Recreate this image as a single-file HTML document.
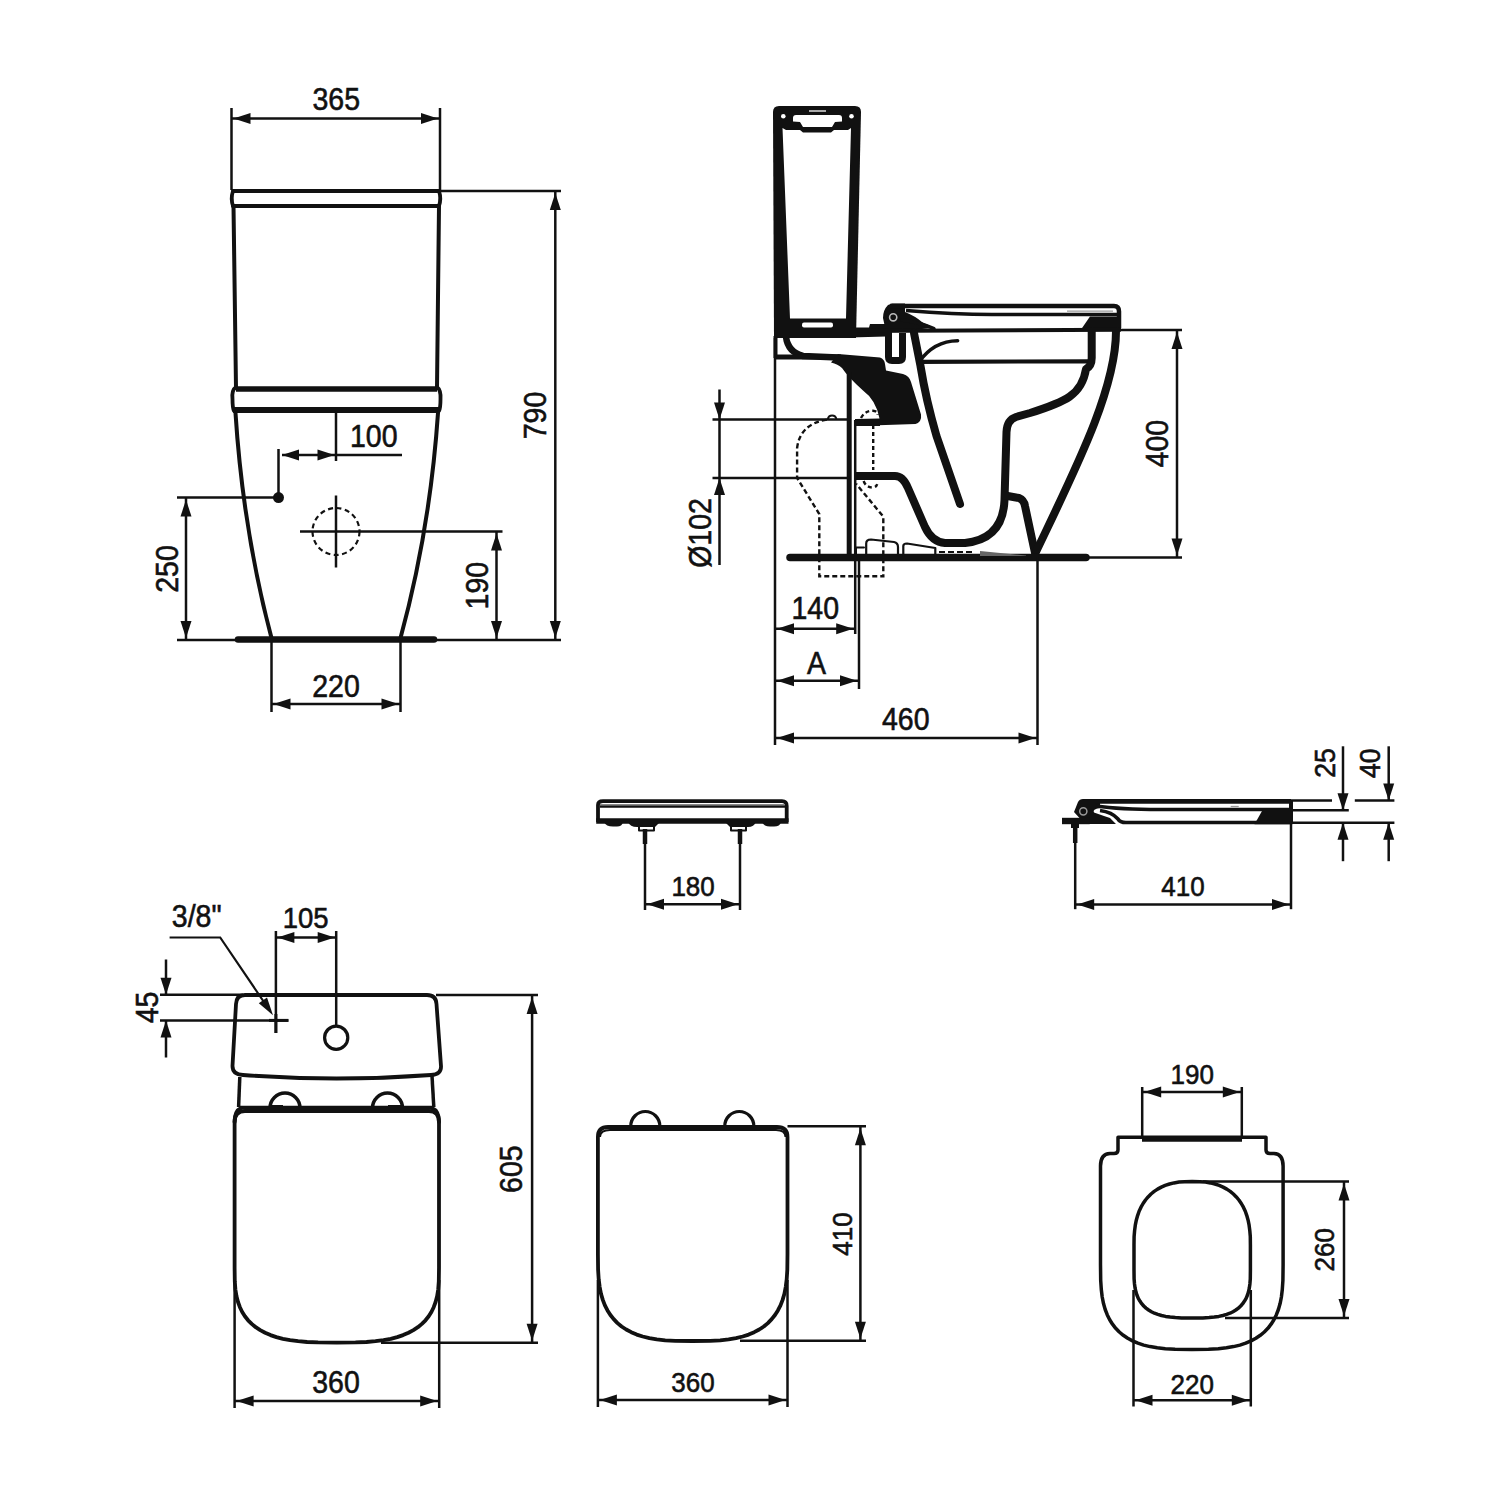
<!DOCTYPE html>
<html><head><meta charset="utf-8"><style>
html,body{margin:0;padding:0;background:#fff;width:1500px;height:1500px;overflow:hidden}
svg{display:block}
text{font-family:"Liberation Sans",sans-serif;fill:#111;stroke:#111;stroke-width:0.55px}
</style></head><body>
<svg width="1500" height="1500" viewBox="0 0 1500 1500">
<rect width="1500" height="1500" fill="#fff"/>
<line x1="231.5" y1="108" x2="231.5" y2="190" stroke="#111" stroke-width="2.5" stroke-linecap="butt" />
<line x1="440" y1="108" x2="440" y2="190" stroke="#111" stroke-width="2.5" stroke-linecap="butt" />
<line x1="231.5" y1="118.5" x2="440" y2="118.5" stroke="#111" stroke-width="2.5" stroke-linecap="butt" />
<polygon points="233.5,118.5 250.5,113.0 250.5,124.0" fill="#111"/>
<polygon points="438.0,118.5 421.0,124.0 421.0,113.0" fill="#111"/>
<text transform="translate(336.2,109.5) scale(1,1.08)" font-size="28.5" text-anchor="middle">365</text>
<path d="M233,191 L439,191" fill="none" stroke="#111" stroke-width="3.8" stroke-linecap="round" stroke-linejoin="round" />
<path d="M233,206 L439,206" fill="none" stroke="#111" stroke-width="3.8" stroke-linecap="round" stroke-linejoin="round" />
<path d="M233,191 Q230.5,198.5 233,206" fill="none" stroke="#111" stroke-width="3.8" stroke-linecap="round" stroke-linejoin="round" />
<path d="M439,191 Q441.5,198.5 439,206" fill="none" stroke="#111" stroke-width="3.8" stroke-linecap="round" stroke-linejoin="round" />
<path d="M233.5,206 L236,388" fill="none" stroke="#111" stroke-width="4" stroke-linecap="round" stroke-linejoin="round" />
<path d="M439,206 L437,388" fill="none" stroke="#111" stroke-width="4" stroke-linecap="round" stroke-linejoin="round" />
<path d="M236,389 L437,389" fill="none" stroke="#111" stroke-width="5.5" stroke-linecap="butt" stroke-linejoin="round" />
<path d="M233,410 L440,410" fill="none" stroke="#111" stroke-width="6" stroke-linecap="butt" stroke-linejoin="round" />
<path d="M236,387 Q231.5,390 232.5,399 Q232.5,408 234,411" fill="none" stroke="#111" stroke-width="3.8" stroke-linecap="round" stroke-linejoin="round" />
<path d="M437,387 Q441,390 440.5,399 Q440.5,408 439,411" fill="none" stroke="#111" stroke-width="3.8" stroke-linecap="round" stroke-linejoin="round" />
<path d="M235.5,413 Q243,530 271.5,638" fill="none" stroke="#111" stroke-width="4" stroke-linecap="round" stroke-linejoin="round" />
<path d="M438,413 Q430,530 400.5,638" fill="none" stroke="#111" stroke-width="4" stroke-linecap="round" stroke-linejoin="round" />
<path d="M238,639.5 L434,639.5" fill="none" stroke="#111" stroke-width="6.5" stroke-linecap="round" stroke-linejoin="round" />
<line x1="177" y1="640" x2="561" y2="640" stroke="#111" stroke-width="2.5" stroke-linecap="butt" />
<line x1="336" y1="410" x2="336" y2="461" stroke="#111" stroke-width="2.5" stroke-linecap="butt" />
<line x1="282" y1="455" x2="402" y2="455" stroke="#111" stroke-width="2.5" stroke-linecap="butt" />
<polygon points="282.0,455.0 299.0,449.5 299.0,460.5" fill="#111"/>
<polygon points="334.5,455.0 317.5,460.5 317.5,449.5" fill="#111"/>
<text transform="translate(373.7,447) scale(1,1.08)" font-size="28.5" text-anchor="middle">100</text>
<line x1="278.5" y1="449" x2="278.5" y2="497.6" stroke="#111" stroke-width="2.5" stroke-linecap="butt" />
<circle cx="278.5" cy="497.6" r="5.5" fill="#111"/>
<line x1="177" y1="497.6" x2="278.5" y2="497.6" stroke="#111" stroke-width="2.5" stroke-linecap="butt" />
<line x1="186" y1="497.6" x2="186" y2="640" stroke="#111" stroke-width="2.5" stroke-linecap="butt" />
<polygon points="186.0,499.6 191.5,516.6 180.5,516.6" fill="#111"/>
<polygon points="186.0,638.0 180.5,621.0 191.5,621.0" fill="#111"/>
<text transform="translate(177.5,569) rotate(-90) scale(1,1.08)" font-size="28.5" text-anchor="middle">250</text>
<circle cx="336" cy="531.5" r="23.5" fill="none" stroke="#111" stroke-width="2.2" stroke-dasharray="5 3.5"/>
<line x1="300" y1="531.5" x2="502.5" y2="531.5" stroke="#111" stroke-width="2.5" stroke-linecap="butt" />
<line x1="336" y1="495.5" x2="336" y2="567.5" stroke="#111" stroke-width="2.5" stroke-linecap="butt" />
<line x1="496.5" y1="531.5" x2="496.5" y2="640" stroke="#111" stroke-width="2.5" stroke-linecap="butt" />
<polygon points="496.5,533.5 502.0,550.5 491.0,550.5" fill="#111"/>
<polygon points="496.5,638.0 491.0,621.0 502.0,621.0" fill="#111"/>
<text transform="translate(488.0,585.7) rotate(-90) scale(1,1.08)" font-size="28.5" text-anchor="middle">190</text>
<line x1="440" y1="191" x2="561" y2="191" stroke="#111" stroke-width="2.5" stroke-linecap="butt" />
<line x1="555.3" y1="191" x2="555.3" y2="640" stroke="#111" stroke-width="2.5" stroke-linecap="butt" />
<polygon points="555.3,193.0 560.8,210.0 549.8,210.0" fill="#111"/>
<polygon points="555.3,638.0 549.8,621.0 560.8,621.0" fill="#111"/>
<text transform="translate(546.0,415.5) rotate(-90) scale(1,1.08)" font-size="28.5" text-anchor="middle">790</text>
<line x1="271.5" y1="640" x2="271.5" y2="712" stroke="#111" stroke-width="2.5" stroke-linecap="butt" />
<line x1="400.5" y1="640" x2="400.5" y2="712" stroke="#111" stroke-width="2.5" stroke-linecap="butt" />
<line x1="271.5" y1="704" x2="400.5" y2="704" stroke="#111" stroke-width="2.5" stroke-linecap="butt" />
<polygon points="273.5,704.0 290.5,698.5 290.5,709.5" fill="#111"/>
<polygon points="398.5,704.0 381.5,709.5 381.5,698.5" fill="#111"/>
<text transform="translate(336,696.5) scale(1,1.08)" font-size="28.5" text-anchor="middle">220</text>
<path d="M779,106 L855,106 Q861,106 861,112 L856,338 L774,338 L773,112 Q773,106 779,106 Z" fill="#111" stroke="none"/>
<path d="M782.5,128 L786,130 L800,130 L803,132.5 L831,132.5 L834,130 L848,130 L851,128 L846,318.5 L790,318.5 Z" fill="#fff" stroke="none"/>
<path d="M796,115 L839,115 Q842,115 842,118 L842,121.5 L835,122 L832,127 L803,127 L800,122 L793,121.5 L793,118 Q793,115 796,115 Z" fill="#fff" stroke="none"/>
<circle cx="783.3" cy="116.3" r="2.3" fill="#fff"/><circle cx="851.5" cy="116.3" r="2.3" fill="#fff"/>
<line x1="809" y1="111" x2="826" y2="111" stroke="#ddd" stroke-width="1.5" stroke-linecap="butt" />
<rect x="802" y="322.5" width="31" height="5" rx="2" fill="#fff"/>
<path d="M850,327.5 L869,327.5 L870,324 L886,324 L886,336.5 L850,337.5 Z" fill="#111" stroke="none"/>
<path d="M775.5,336 L775.5,358" fill="none" stroke="#111" stroke-width="4" stroke-linecap="butt" stroke-linejoin="round" />
<path d="M786,337 Q788,352 803,356 L838,357.5" fill="none" stroke="#111" stroke-width="6.5" stroke-linecap="butt" stroke-linejoin="round" />
<line x1="774.5" y1="357" x2="841" y2="357" stroke="#111" stroke-width="5" stroke-linecap="butt" />
<path d="M838,354 L880,357.5 Q884.5,359 885,364 L886,370.5 L903,374 Q909.5,376 911,382 L921,414.5 Q922,422 915.5,424 L856,426 L856,419 L879.5,418.5 Q876,400 863,390.5 Q848,377 842,368 Q838,364 831,362.5 Z" fill="#111" stroke="none"/>
<line x1="849.2" y1="372" x2="849.2" y2="558" stroke="#111" stroke-width="5" stroke-linecap="butt" />
<line x1="855.2" y1="420" x2="855.2" y2="634" stroke="#111" stroke-width="2.5" stroke-linecap="butt" />
<line x1="859" y1="557" x2="859" y2="689" stroke="#111" stroke-width="2.5" stroke-linecap="butt" />
<path d="M883,318 Q883,310 888,305 L892,303.5 L905,303.5 L905,312 Q915,316 922,322 L934,328 L886,332 Z" fill="#111" stroke="none"/>
<circle cx="893.2" cy="317.3" r="3.6" fill="none" stroke="#bbb" stroke-width="1.6"/>
<path d="M890,306 L1114,306 Q1119,306 1119,311.5 L1119,328" fill="none" stroke="#111" stroke-width="4.5" stroke-linecap="butt" stroke-linejoin="round" />
<path d="M906,310.5 Q960,315 1000,314.5 L1117,314.5" fill="none" stroke="#111" stroke-width="3.5" stroke-linecap="butt" stroke-linejoin="round" />
<line x1="1067" y1="311.2" x2="1113" y2="311.2" stroke="#999" stroke-width="1.3" stroke-linecap="butt" />
<path d="M1090,316.5 L1121,316.5 L1121,331 L1080,331 Z" fill="#111" stroke="none"/>
<path d="M902,320 Q918,322 934,328.5" fill="none" stroke="#111" stroke-width="3.5" stroke-linecap="round" stroke-linejoin="round" />
<path d="M850,331 L1121,329.7" fill="none" stroke="#111" stroke-width="4" stroke-linecap="butt" stroke-linejoin="round" />
<line x1="1121" y1="329.9" x2="1182" y2="329.9" stroke="#111" stroke-width="2.5" stroke-linecap="butt" />
<path d="M888.5,332 L888.5,357 Q888.5,360.5 892,360.5 L899,360.5 Q902.5,360.5 902.5,357 L902.5,333" fill="none" stroke="#111" stroke-width="7" stroke-linecap="butt" stroke-linejoin="round" />
<path d="M1091.7,331 L1091.7,358 Q1091.7,366 1086,369 C1082,395 1065,402 1030,413 L1016,417 Q1007,420 1006.5,432 L1004.5,500 Q1003,539 965,543 L945,543 Q932,542 925,527 L908,488 Q903,476 895,476 L855,476" fill="none" stroke="#111" stroke-width="8" stroke-linecap="butt" stroke-linejoin="round" />
<path d="M855,422.5 L880,422.5" fill="none" stroke="#111" stroke-width="7" stroke-linecap="butt" stroke-linejoin="round" />
<path d="M918,338 L922.5,366 Q928,400 938.5,436 L961,500" fill="none" stroke="#fff" stroke-width="12" stroke-linecap="butt" stroke-linejoin="round" />
<path d="M914,333 L920.5,366 Q926,400 936.5,436 L960,504" fill="none" stroke="#111" stroke-width="8" stroke-linecap="round" stroke-linejoin="round" />
<path d="M919,362 Q934,341 957.6,340.8" fill="none" stroke="#111" stroke-width="3.6" stroke-linecap="round" stroke-linejoin="round" />
<path d="M918,361.8 L1088,361.3" fill="none" stroke="#111" stroke-width="4.2" stroke-linecap="butt" stroke-linejoin="round" />
<path d="M1005,495.5 L1019,498 Q1024,500 1025,506 L1035,553" fill="none" stroke="#111" stroke-width="8" stroke-linecap="round" stroke-linejoin="round" />
<path d="M1116,331 C1116,390 1075,470 1035,554" fill="none" stroke="#111" stroke-width="8" stroke-linecap="butt" stroke-linejoin="round" />
<path d="M790,557.5 L1086,557.5" fill="none" stroke="#111" stroke-width="7.5" stroke-linecap="round" stroke-linejoin="round" />
<line x1="1086" y1="557.6" x2="1182" y2="557.6" stroke="#111" stroke-width="2.5" stroke-linecap="butt" />
<path d="M856,557 L856,547.5 L864,547.5" fill="none" stroke="#111" stroke-width="2" stroke-linecap="round" stroke-linejoin="round" />
<path d="M866.2,557 L866.2,543.5 Q866.2,539.5 871,539.5 L894,542 Q898,543 898,547 L898,557" fill="none" stroke="#111" stroke-width="2.2" stroke-linecap="butt" stroke-linejoin="round" />
<path d="M903.3,557 L903.3,546 Q903.3,543.5 907,543.5 L935.3,548 L935.3,557" fill="none" stroke="#111" stroke-width="2.2" stroke-linecap="butt" stroke-linejoin="round" />
<line x1="939" y1="552" x2="975" y2="552" stroke="#111" stroke-width="2" stroke-dasharray="6 3"/>
<path d="M980,551 L1026,555.5 L1026,556 L980,556 Z" fill="#666" stroke="none"/>
<path d="M826.9,419.6 Q800,424 797.1,448 L797.1,478 L819.3,514 L819.3,576.2 L883.3,576.2 L883.3,516.6 L856,483.7" fill="none" stroke="#111" stroke-width="2.4" stroke-dasharray="5 3"/>
<path d="M827.8,419 A4.4,4.4 0 0 1 836.4,419" fill="none" stroke="#111" stroke-width="2"/>
<path d="M861,418 Q865,410.5 873,410.8 Q877.5,411 877.6,415 M873.2,425 L873.2,470 M863.6,481 Q866,487.5 873,487.5 Q877.6,487 877.6,481" fill="none" stroke="#111" stroke-width="2.4" stroke-dasharray="4 3"/>
<line x1="775" y1="338" x2="775" y2="745" stroke="#111" stroke-width="2.5" stroke-linecap="butt" />
<line x1="1037.5" y1="557" x2="1037.5" y2="745" stroke="#111" stroke-width="2.5" stroke-linecap="butt" />
<line x1="775" y1="738" x2="1037.5" y2="738" stroke="#111" stroke-width="2.5" stroke-linecap="butt" />
<polygon points="777.0,738.0 794.0,732.5 794.0,743.5" fill="#111"/>
<polygon points="1035.5,738.0 1018.5,743.5 1018.5,732.5" fill="#111"/>
<text transform="translate(905.7,729.8) scale(1,1.08)" font-size="28.5" text-anchor="middle">460</text>
<line x1="775" y1="628.7" x2="855.2" y2="628.7" stroke="#111" stroke-width="2.5" stroke-linecap="butt" />
<polygon points="777.0,628.7 794.0,623.2 794.0,634.2" fill="#111"/>
<polygon points="853.2,628.7 836.2,634.2 836.2,623.2" fill="#111"/>
<text transform="translate(815.2,619.2) scale(1,1.08)" font-size="28.5" text-anchor="middle">140</text>
<line x1="775" y1="680.7" x2="859" y2="680.7" stroke="#111" stroke-width="2.5" stroke-linecap="butt" />
<polygon points="777.0,680.7 794.0,675.2 794.0,686.2" fill="#111"/>
<polygon points="857.0,680.7 840.0,686.2 840.0,675.2" fill="#111"/>
<text transform="translate(816.5,673.5) scale(1,1.08)" font-size="28.5" text-anchor="middle">A</text>
<line x1="712.5" y1="419.6" x2="849" y2="419.6" stroke="#111" stroke-width="2.5" stroke-linecap="butt" />
<line x1="712.5" y1="478" x2="849" y2="478" stroke="#111" stroke-width="2.5" stroke-linecap="butt" />
<line x1="719.5" y1="389.5" x2="719.5" y2="565" stroke="#111" stroke-width="2.5" stroke-linecap="butt" />
<polygon points="719.5,419.6 714.0,402.6 725.0,402.6" fill="#111"/>
<polygon points="719.5,478.0 725.0,495.0 714.0,495.0" fill="#111"/>
<text transform="translate(711.2,533) rotate(-90) scale(1,1.08)" font-size="28.5" text-anchor="middle">Ø102</text>
<line x1="1177" y1="329.9" x2="1177" y2="557.6" stroke="#111" stroke-width="2.5" stroke-linecap="butt" />
<polygon points="1177.0,331.9 1182.5,348.9 1171.5,348.9" fill="#111"/>
<polygon points="1177.0,555.6 1171.5,538.6 1182.5,538.6" fill="#111"/>
<text transform="translate(1167.5,443.7) rotate(-90) scale(1,1.08)" font-size="28.5" text-anchor="middle">400</text>
<path d="M598,822 L598,805 Q598,801.2 603,801.2 L782,801.2 Q786.7,801.2 786.7,806 L786.7,822" fill="none" stroke="#111" stroke-width="3.8" stroke-linecap="butt" stroke-linejoin="round" />
<line x1="600" y1="806.4" x2="785" y2="806.4" stroke="#111" stroke-width="2.5" stroke-linecap="butt" />
<line x1="600" y1="804.6" x2="785" y2="804.6" stroke="#888" stroke-width="1.3" stroke-linecap="butt" />
<path d="M596.2,821 L788.5,821" fill="none" stroke="#111" stroke-width="5.5" stroke-linecap="butt" stroke-linejoin="round" />
<path d="M604,822 Q606,826.5 613,826.5 L617,826.5 Q622,826.5 623,822 Z" fill="#111" stroke="none"/>
<path d="M628,822 Q630,827 637,827 L655,827 L660,822 Z" fill="#111" stroke="none"/>
<path d="M762,822 Q764,826.5 770,826.5 L774,826.5 Q780,826.5 781,822 Z" fill="#111" stroke="none"/>
<path d="M725,822 L730,827 L748,827 Q754,827 756,822 Z" fill="#111" stroke="none"/>
<path d="M639,826 L639,830.5 L654,830.5 L654,826" fill="none" stroke="#111" stroke-width="2" stroke-linecap="butt" stroke-linejoin="round" />
<path d="M731,826 L731,830.5 L746,830.5 L746,826" fill="none" stroke="#111" stroke-width="2" stroke-linecap="butt" stroke-linejoin="round" />
<line x1="645" y1="829" x2="645" y2="844" stroke="#111" stroke-width="4.5" stroke-linecap="butt" />
<line x1="740" y1="829" x2="740" y2="844" stroke="#111" stroke-width="4.5" stroke-linecap="butt" />
<line x1="645" y1="844" x2="645" y2="910" stroke="#111" stroke-width="2.5" stroke-linecap="butt" />
<line x1="740" y1="844" x2="740" y2="910" stroke="#111" stroke-width="2.5" stroke-linecap="butt" />
<line x1="645" y1="904.2" x2="740" y2="904.2" stroke="#111" stroke-width="2.5" stroke-linecap="butt" />
<polygon points="647.0,904.2 664.0,898.7 664.0,909.7" fill="#111"/>
<polygon points="738.0,904.2 721.0,909.7 721.0,898.7" fill="#111"/>
<text transform="translate(693.1,895.8) scale(1,1.08)" font-size="26" text-anchor="middle">180</text>
<path d="M1074,812 L1078,802 Q1079.5,799 1083,799 L1100,799 L1100,808 Q1092,809 1094,812.5 L1104,816 L1110,818 L1116,824 L1085,824 Z" fill="#111" stroke="none"/>
<circle cx="1083.3" cy="811.3" r="3.6" fill="none" stroke="#999" stroke-width="1.5"/>
<path d="M1095,801.4 L1291,801.4" fill="none" stroke="#111" stroke-width="4.8" stroke-linecap="butt" stroke-linejoin="round" />
<path d="M1096,806 Q1120,809.5 1160,809.5 L1291,809.5" fill="none" stroke="#111" stroke-width="3.6" stroke-linecap="butt" stroke-linejoin="round" />
<line x1="1230.7" y1="806.5" x2="1238.7" y2="806.5" stroke="#999" stroke-width="1.3" stroke-linecap="butt" />
<path d="M1100,810.5 Q1112,812 1118,819 Q1120,822.5 1126,822.5 L1291,822.5" fill="none" stroke="#111" stroke-width="3.6" stroke-linecap="butt" stroke-linejoin="round" />
<path d="M1262,811 L1292.5,811 L1292.5,824.3 L1254.5,824.3 Z" fill="#111" stroke="none"/>
<line x1="1291" y1="800" x2="1291" y2="824" stroke="#111" stroke-width="4" stroke-linecap="butt" />
<path d="M1062,821 L1089.7,821" fill="none" stroke="#111" stroke-width="6.4" stroke-linecap="butt" stroke-linejoin="round" />
<rect x="1071" y="823" width="8" height="5" fill="#111"/>
<line x1="1075.2" y1="827" x2="1075.2" y2="843" stroke="#111" stroke-width="4.5" stroke-linecap="butt" />
<line x1="1075.2" y1="843" x2="1075.2" y2="909.2" stroke="#111" stroke-width="2.5" stroke-linecap="butt" />
<line x1="1291" y1="823" x2="1291" y2="909.2" stroke="#111" stroke-width="2.5" stroke-linecap="butt" />
<line x1="1075.2" y1="904.4" x2="1291" y2="904.4" stroke="#111" stroke-width="2.5" stroke-linecap="butt" />
<polygon points="1077.2,904.4 1094.2,898.9 1094.2,909.9" fill="#111"/>
<polygon points="1289.0,904.4 1272.0,909.9 1272.0,898.9" fill="#111"/>
<text transform="translate(1183,895.5) scale(1,1.08)" font-size="26" text-anchor="middle">410</text>
<line x1="1291" y1="800.5" x2="1332" y2="800.5" stroke="#111" stroke-width="2.5" stroke-linecap="butt" />
<line x1="1354.8" y1="800.5" x2="1394.4" y2="800.5" stroke="#111" stroke-width="2.5" stroke-linecap="butt" />
<line x1="1291" y1="810.3" x2="1348.8" y2="810.3" stroke="#111" stroke-width="2.5" stroke-linecap="butt" />
<line x1="1291" y1="822.8" x2="1394.4" y2="822.8" stroke="#111" stroke-width="2.5" stroke-linecap="butt" />
<line x1="1343" y1="746.3" x2="1343" y2="810.3" stroke="#111" stroke-width="2.5" stroke-linecap="butt" />
<polygon points="1343.0,810.3 1337.5,793.3 1348.5,793.3" fill="#111"/>
<line x1="1343" y1="822.8" x2="1343" y2="861.2" stroke="#111" stroke-width="2.5" stroke-linecap="butt" />
<polygon points="1343.0,822.8 1348.5,839.8 1337.5,839.8" fill="#111"/>
<line x1="1388.7" y1="746.3" x2="1388.7" y2="800.5" stroke="#111" stroke-width="2.5" stroke-linecap="butt" />
<polygon points="1388.7,800.5 1383.2,783.5 1394.2,783.5" fill="#111"/>
<line x1="1388.7" y1="822.8" x2="1388.7" y2="861.2" stroke="#111" stroke-width="2.5" stroke-linecap="butt" />
<polygon points="1388.7,822.8 1394.2,839.8 1383.2,839.8" fill="#111"/>
<text transform="translate(1335.0,763) rotate(-90) scale(1,1.08)" font-size="26.5" text-anchor="middle">25</text>
<text transform="translate(1380.2,763.3) rotate(-90) scale(1,1.08)" font-size="26.5" text-anchor="middle">40</text>
<path d="M245,995 L427,995 Q436,995 436.5,1004 L441,1066 Q441.5,1074.5 431,1075 Q336,1082 243,1075 Q232.5,1074.5 232.5,1066 L236,1004 Q236.5,995 245,995 Z" fill="none" stroke="#111" stroke-width="3.8" stroke-linecap="round" stroke-linejoin="round" />
<circle cx="336.2" cy="1037.7" r="11.6" fill="none" stroke="#111" stroke-width="3.2"/>
<path d="M239.8,1077 L238.6,1107" fill="none" stroke="#111" stroke-width="3.5" stroke-linecap="butt" stroke-linejoin="round" />
<path d="M432,1076 L433.8,1107" fill="none" stroke="#111" stroke-width="3.5" stroke-linecap="butt" stroke-linejoin="round" />
<path d="M270,1108 A15,15 0 0 1 300,1108" fill="none" stroke="#111" stroke-width="3.5" stroke-linecap="butt" stroke-linejoin="round" />
<path d="M372.5,1108 A15,15 0 0 1 402.5,1108" fill="none" stroke="#111" stroke-width="3.5" stroke-linecap="butt" stroke-linejoin="round" />
<path d="M239,1107.6 L434,1107.6" fill="none" stroke="#111" stroke-width="3.6" stroke-linecap="butt" stroke-linejoin="round" />
<path d="M270,1107.6 L283,1107.6 M388,1107.6 L402,1107.6" fill="none" stroke="#111" stroke-width="5" stroke-linecap="butt" stroke-linejoin="round" />
<path d="M241,1108 Q234.6,1111 234.6,1122" fill="none" stroke="#111" stroke-width="4" stroke-linecap="round" stroke-linejoin="round" />
<path d="M432,1108 Q439,1111 439,1122" fill="none" stroke="#111" stroke-width="4" stroke-linecap="round" stroke-linejoin="round" />
<path d="M234.6,1267.8 L234.6,1122 Q234.6,1111 245,1111 L429,1111 Q439,1111 439,1122 L439.0,1267.8 L438.8,1281.5 L438.2,1289.5 L437.1,1296.2 L435.6,1302.0 L433.7,1307.2 L431.4,1312.0 L428.7,1316.3 L425.5,1320.3 L421.9,1323.9 L417.9,1327.2 L413.4,1330.1 L408.5,1332.7 L403.1,1335.1 L397.2,1337.1 L390.7,1338.8 L383.5,1340.1 L375.5,1341.2 L366.5,1342.0 L355.5,1342.4 L336.8,1342.6 L318.1,1342.4 L307.1,1342.0 L298.1,1341.2 L290.1,1340.1 L282.9,1338.8 L276.4,1337.1 L270.5,1335.1 L265.1,1332.7 L260.2,1330.1 L255.7,1327.2 L251.7,1323.9 L248.1,1320.3 L244.9,1316.3 L242.2,1312.0 L239.9,1307.2 L238.0,1302.0 L236.5,1296.2 L235.4,1289.5 L234.8,1281.5 L234.6,1267.8 Z" fill="none" stroke="#111" stroke-width="3.8" stroke-linecap="round" stroke-linejoin="round" />
<line x1="436" y1="995" x2="538" y2="995" stroke="#111" stroke-width="2.5" stroke-linecap="butt" />
<line x1="381" y1="1342.8" x2="538" y2="1342.8" stroke="#111" stroke-width="2.5" stroke-linecap="butt" />
<line x1="532.1" y1="995" x2="532.1" y2="1342.8" stroke="#111" stroke-width="2.5" stroke-linecap="butt" />
<polygon points="532.1,997.0 537.6,1014.0 526.6,1014.0" fill="#111"/>
<polygon points="532.1,1340.8 526.6,1323.8 537.6,1323.8" fill="#111"/>
<text transform="translate(522.2,1169.2) rotate(-90) scale(1,1.08)" font-size="28.5" text-anchor="middle">605</text>
<line x1="234.6" y1="1280" x2="234.6" y2="1408" stroke="#111" stroke-width="2.5" stroke-linecap="butt" />
<line x1="439.2" y1="1280" x2="439.2" y2="1408" stroke="#111" stroke-width="2.5" stroke-linecap="butt" />
<line x1="234.6" y1="1400.9" x2="439.2" y2="1400.9" stroke="#111" stroke-width="2.5" stroke-linecap="butt" />
<polygon points="236.6,1400.9 253.6,1395.4 253.6,1406.4" fill="#111"/>
<polygon points="437.2,1400.9 420.2,1406.4 420.2,1395.4" fill="#111"/>
<text transform="translate(336,1393) scale(1,1.08)" font-size="28.5" text-anchor="middle">360</text>
<line x1="275.9" y1="931" x2="275.9" y2="1033" stroke="#111" stroke-width="2.5" stroke-linecap="butt" />
<line x1="336.2" y1="931" x2="336.2" y2="1026" stroke="#111" stroke-width="2.5" stroke-linecap="butt" />
<line x1="275.9" y1="937.5" x2="336.2" y2="937.5" stroke="#111" stroke-width="2.5" stroke-linecap="butt" />
<polygon points="277.4,937.5 294.4,932.0 294.4,943.0" fill="#111"/>
<polygon points="334.7,937.5 317.7,943.0 317.7,932.0" fill="#111"/>
<text transform="translate(305.6,927.6) scale(1,1.08)" font-size="27.5" text-anchor="middle">105</text>
<path d="M169.6,937.5 L220.2,937.5 L268,1008" fill="none" stroke="#111" stroke-width="2.2" stroke-linecap="butt" stroke-linejoin="miter" />
<polygon points="273.0,1015.3 258.8,1003.2 267.0,997.6" fill="#111"/>
<text transform="translate(196.7,927.2) scale(1,1.08)" font-size="28.5" text-anchor="middle">3/8"</text>
<line x1="160" y1="994.8" x2="243" y2="994.8" stroke="#111" stroke-width="2.5" stroke-linecap="butt" />
<line x1="160" y1="1020.4" x2="288.4" y2="1020.4" stroke="#111" stroke-width="2.5" stroke-linecap="butt" />
<line x1="166" y1="959.5" x2="166" y2="994.8" stroke="#111" stroke-width="2.5" stroke-linecap="butt" />
<polygon points="166.0,994.8 160.5,977.8 171.5,977.8" fill="#111"/>
<line x1="166" y1="1020.4" x2="166" y2="1057.5" stroke="#111" stroke-width="2.5" stroke-linecap="butt" />
<polygon points="166.0,1020.4 171.5,1037.4 160.5,1037.4" fill="#111"/>
<text transform="translate(157.9,1007.5) rotate(-90) scale(1,1.08)" font-size="28.5" text-anchor="middle">45</text>
<line x1="269" y1="1020.4" x2="288.4" y2="1020.4" stroke="#111" stroke-width="3" stroke-linecap="butt" />
<line x1="275.9" y1="1014" x2="275.9" y2="1033" stroke="#111" stroke-width="3" stroke-linecap="butt" />
<path d="M630.8,1126 A14.5,14.5 0 0 1 659.8,1126" fill="none" stroke="#111" stroke-width="3.2" stroke-linecap="butt" stroke-linejoin="round" />
<path d="M724.8,1126 A14.5,14.5 0 0 1 753.8,1126" fill="none" stroke="#111" stroke-width="3.2" stroke-linecap="butt" stroke-linejoin="round" />
<path d="M787.5,1254 L787.5,1137 Q787.5,1127 777,1127 L608,1127 Q597.9,1127 597.9,1137 L597.9,1254 L597.9,1254.0 L598.1,1269.9 L598.7,1279.3 L599.7,1287.0 L601.0,1293.8 L602.8,1299.9 L604.9,1305.4 L607.5,1310.4 L610.4,1315.0 L613.7,1319.2 L617.5,1323.1 L621.6,1326.5 L626.2,1329.5 L631.2,1332.2 L636.7,1334.6 L642.7,1336.5 L649.4,1338.1 L656.8,1339.4 L665.2,1340.3 L675.3,1340.8 L692.7,1341.0 L710.1,1340.8 L720.2,1340.3 L728.6,1339.4 L736.0,1338.1 L742.7,1336.5 L748.7,1334.6 L754.2,1332.2 L759.2,1329.5 L763.8,1326.5 L767.9,1323.1 L771.7,1319.2 L775.0,1315.0 L777.9,1310.4 L780.5,1305.4 L782.6,1299.9 L784.4,1293.8 L785.7,1287.0 L786.7,1279.3 L787.3,1269.9 L787.5,1254.0 " fill="none" stroke="#111" stroke-width="3.8" stroke-linecap="butt" stroke-linejoin="round" />
<path d="M600,1137 Q600,1130 610,1130 L776,1130 Q785.5,1130 785.5,1137" fill="none" stroke="#111" stroke-width="2" stroke-linecap="butt" stroke-linejoin="round" />
<line x1="787.5" y1="1126.3" x2="866" y2="1126.3" stroke="#111" stroke-width="2.5" stroke-linecap="butt" />
<line x1="740" y1="1340.8" x2="866" y2="1340.8" stroke="#111" stroke-width="2.5" stroke-linecap="butt" />
<line x1="860.4" y1="1126.3" x2="860.4" y2="1340.8" stroke="#111" stroke-width="2.5" stroke-linecap="butt" />
<polygon points="860.4,1128.3 865.9,1145.3 854.9,1145.3" fill="#111"/>
<polygon points="860.4,1338.8 854.9,1321.8 865.9,1321.8" fill="#111"/>
<text transform="translate(851.8,1234) rotate(-90) scale(1,1.08)" font-size="26" text-anchor="middle">410</text>
<line x1="597.9" y1="1280" x2="597.9" y2="1407" stroke="#111" stroke-width="2.5" stroke-linecap="butt" />
<line x1="787.5" y1="1280" x2="787.5" y2="1407" stroke="#111" stroke-width="2.5" stroke-linecap="butt" />
<line x1="597.9" y1="1400" x2="787.5" y2="1400" stroke="#111" stroke-width="2.5" stroke-linecap="butt" />
<polygon points="599.9,1400.0 616.9,1394.5 616.9,1405.5" fill="#111"/>
<polygon points="785.5,1400.0 768.5,1405.5 768.5,1394.5" fill="#111"/>
<text transform="translate(693,1391.8) scale(1,1.08)" font-size="26" text-anchor="middle">360</text>
<path d="M1118,1137.3 L1266,1137.3 L1266,1150 Q1266,1153.5 1270,1153.5 L1274,1153.5 Q1283.1,1154 1283.1,1166 L1283.1,1265 L1283.1,1265.0 L1282.9,1280.5 L1282.3,1289.5 L1281.4,1297.0 L1280.1,1303.6 L1278.4,1309.5 L1276.3,1314.9 L1273.9,1319.8 L1271.1,1324.2 L1267.9,1328.3 L1264.3,1332.0 L1260.3,1335.3 L1255.9,1338.3 L1251.0,1340.9 L1245.7,1343.2 L1239.9,1345.1 L1233.5,1346.6 L1226.4,1347.8 L1218.3,1348.7 L1208.5,1349.2 L1191.8,1349.4 L1175.1,1349.2 L1165.3,1348.7 L1157.2,1347.8 L1150.1,1346.6 L1143.7,1345.1 L1137.9,1343.2 L1132.6,1340.9 L1127.7,1338.3 L1123.3,1335.3 L1119.3,1332.0 L1115.7,1328.3 L1112.5,1324.2 L1109.7,1319.8 L1107.3,1314.9 L1105.2,1309.5 L1103.5,1303.6 L1102.2,1297.0 L1101.3,1289.5 L1100.7,1280.5 L1100.5,1265.0  L1100.5,1166 Q1100.5,1154 1110,1153.5 L1114,1153.5 Q1118,1153.5 1118,1150 Z" fill="none" stroke="#111" stroke-width="3.5" stroke-linecap="round" stroke-linejoin="round" />
<path d="M1142,1139.3 L1242,1139.3" fill="none" stroke="#111" stroke-width="4.8" stroke-linecap="butt" stroke-linejoin="round" />
<path d="M1134.0,1245.0 L1134.1,1236.7 L1134.6,1230.6 L1135.3,1225.2 L1136.3,1220.2 L1137.6,1215.6 L1139.1,1211.2 L1141.0,1207.2 L1143.1,1203.5 L1145.5,1200.0 L1148.1,1196.9 L1151.0,1194.0 L1154.2,1191.4 L1157.6,1189.1 L1161.3,1187.1 L1165.2,1185.4 L1169.5,1184.0 L1174.0,1182.9 L1179.0,1182.1 L1184.6,1181.7 L1192.2,1181.5 L1199.8,1181.7 L1205.4,1182.1 L1210.4,1182.9 L1214.9,1184.0 L1219.2,1185.4 L1223.1,1187.1 L1226.8,1189.1 L1230.2,1191.4 L1233.4,1194.0 L1236.3,1196.9 L1238.9,1200.0 L1241.3,1203.5 L1243.4,1207.2 L1245.3,1211.2 L1246.8,1215.6 L1248.1,1220.2 L1249.1,1225.2 L1249.8,1230.6 L1250.3,1236.7 L1250.4,1245.0  L1250.4,1270 L1250.4,1270.0 L1250.3,1278.8 L1249.9,1283.9 L1249.3,1288.2 L1248.5,1291.9 L1247.4,1295.3 L1246.1,1298.4 L1244.5,1301.1 L1242.7,1303.7 L1240.7,1306.0 L1238.4,1308.1 L1235.8,1310.0 L1233.0,1311.7 L1230.0,1313.2 L1226.6,1314.4 L1222.9,1315.5 L1218.8,1316.4 L1214.3,1317.1 L1209.1,1317.6 L1202.9,1317.9 L1192.2,1318.0 L1181.5,1317.9 L1175.3,1317.6 L1170.1,1317.1 L1165.6,1316.4 L1161.5,1315.5 L1157.8,1314.4 L1154.4,1313.2 L1151.4,1311.7 L1148.6,1310.0 L1146.0,1308.1 L1143.7,1306.0 L1141.7,1303.7 L1139.9,1301.1 L1138.3,1298.4 L1137.0,1295.3 L1135.9,1291.9 L1135.1,1288.2 L1134.5,1283.9 L1134.1,1278.8 L1134.0,1270.0  Z" fill="none" stroke="#111" stroke-width="3.5" stroke-linecap="round" stroke-linejoin="round" />
<line x1="1142.2" y1="1087" x2="1142.2" y2="1138" stroke="#111" stroke-width="2.5" stroke-linecap="butt" />
<line x1="1241.8" y1="1087" x2="1241.8" y2="1138" stroke="#111" stroke-width="2.5" stroke-linecap="butt" />
<line x1="1142.2" y1="1092" x2="1241.8" y2="1092" stroke="#111" stroke-width="2.5" stroke-linecap="butt" />
<polygon points="1144.2,1092.0 1161.2,1086.5 1161.2,1097.5" fill="#111"/>
<polygon points="1239.8,1092.0 1222.8,1097.5 1222.8,1086.5" fill="#111"/>
<text transform="translate(1192.3,1084) scale(1,1.08)" font-size="26" text-anchor="middle">190</text>
<line x1="1203" y1="1181.5" x2="1349" y2="1181.5" stroke="#111" stroke-width="2.5" stroke-linecap="butt" />
<line x1="1225" y1="1318" x2="1349" y2="1318" stroke="#111" stroke-width="2.5" stroke-linecap="butt" />
<line x1="1344" y1="1181.5" x2="1344" y2="1318" stroke="#111" stroke-width="2.5" stroke-linecap="butt" />
<polygon points="1344.0,1183.5 1349.5,1200.5 1338.5,1200.5" fill="#111"/>
<polygon points="1344.0,1316.0 1338.5,1299.0 1349.5,1299.0" fill="#111"/>
<text transform="translate(1334.3,1249.8) rotate(-90) scale(1,1.08)" font-size="26" text-anchor="middle">260</text>
<line x1="1133.5" y1="1290" x2="1133.5" y2="1406.5" stroke="#111" stroke-width="2.5" stroke-linecap="butt" />
<line x1="1250.8" y1="1290" x2="1250.8" y2="1406.5" stroke="#111" stroke-width="2.5" stroke-linecap="butt" />
<line x1="1133.5" y1="1400.3" x2="1250.8" y2="1400.3" stroke="#111" stroke-width="2.5" stroke-linecap="butt" />
<polygon points="1135.5,1400.3 1152.5,1394.8 1152.5,1405.8" fill="#111"/>
<polygon points="1248.8,1400.3 1231.8,1405.8 1231.8,1394.8" fill="#111"/>
<text transform="translate(1192.3,1393.5) scale(1,1.08)" font-size="26" text-anchor="middle">220</text>
</svg></body></html>
